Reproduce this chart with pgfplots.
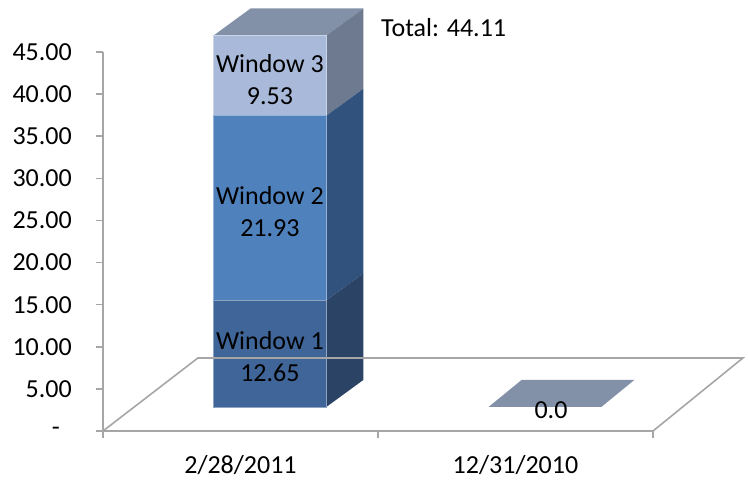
\documentclass[border=0pt]{standalone}
\usepackage{fontspec}
\setmainfont{Carlito}
\usepackage{pgfplots}
\pgfplotsset{compat=1.18}
\definecolor{axgray}{HTML}{A6A6A6}
\definecolor{wa}{HTML}{406699}
\definecolor{was}{HTML}{2B4466}
\definecolor{wb}{HTML}{4F81BD}
\definecolor{wbs}{HTML}{32527E}
\definecolor{wc}{HTML}{A9B9D9}
\definecolor{wcs}{HTML}{6E7A8F}
\definecolor{wtop}{HTML}{8290A8}
\begin{document}
\fontsize{26}{32}\selectfont
\begin{tikzpicture}
\begin{axis}[
  x=275pt, y=8.422pt,
  xmin=0, xmax=2, ymin=0, ymax=45,
  axis x line=bottom, axis y line=left,
  axis line style={-, draw=axgray, line width=1.6pt},
  clip=false,
  ybar stacked, bar width=0.41, bar shift=0.107,
  ytick={0,5,...,45},
  yticklabels={-\kern12pt,5.00,10.00,15.00,20.00,25.00,30.00,35.00,40.00,45.00},
  xtick={0,1,2}, xticklabels={},
  extra x ticks={0.5,1.5},
  extra x tick labels={2/28/2011,12/31/2010},
  extra x tick style={major tick length=0pt, xticklabel style={anchor=center, yshift=-34pt}},
  tick align=outside, major tick length=7pt,
  tick style={draw=axgray, line width=1.6pt},
  tick label style={font=\fontsize{26}{32}\selectfont},
  yticklabel style={anchor=east, inner sep=0pt, xshift=-24pt},
]
% floor
\addplot[sharp plot, stack plots=false, draw=axgray, line width=1.6pt] coordinates {(0,0) (0.345,8.67) (2.327,8.67) (2,0)};
% flat bar 2 (value 0.0)
\addplot[sharp plot, stack plots=false, fill=wtop, draw=none] coordinates {(1.402,2.85) (1.812,2.85) (1.932,6.056) (1.522,6.056)} -- cycle;
% front faces, stacked values
\addplot[fill=wa, draw=wa!60!white, line width=0.6pt, yshift=24pt] coordinates {(0.5,12.65) (1.5,0)};
\addplot[fill=wb, draw=wb!60!white, line width=0.6pt, yshift=24pt] coordinates {(0.5,21.93) (1.5,0)};
\addplot[fill=wc, draw=wc!60!white, line width=0.6pt, yshift=24pt] coordinates {(0.5,9.53) (1.5,0)};
% side faces
\addplot[sharp plot, stack plots=false, fill=was, draw=none] coordinates {(0.812,2.85) (0.9465,6.056) (0.9465,18.706) (0.812,15.50)} -- cycle;
\addplot[sharp plot, stack plots=false, fill=wbs, draw=none] coordinates {(0.812,15.50) (0.9465,18.706) (0.9465,40.636) (0.812,37.43)} -- cycle;
\addplot[sharp plot, stack plots=false, fill=wcs, draw=none] coordinates {(0.812,37.43) (0.9465,40.636) (0.9465,50.166) (0.812,46.96)} -- cycle;
% top face
\addplot[sharp plot, stack plots=false, fill=wtop, draw=none] coordinates {(0.402,46.96) (0.812,46.96) (0.9465,50.166) (0.5365,50.166)} -- cycle;
\coordinate (L3) at (axis cs:0.607,41.7);
\coordinate (L2) at (axis cs:0.607,26.0);
\coordinate (L1) at (axis cs:0.607,8.8);
\coordinate (LT) at (axis cs:1.011,47.95);
\coordinate (L0) at (axis cs:1.629,2.49);
\coordinate (O) at (axis cs:0,0);
\end{axis}
\node[align=center] at (L3) {Window 3\\9.53};
\node[align=center] at (L2) {Window 2\\21.93};
\node[align=center] at (L1) {Window 1\\12.65};
\node[anchor=west, inner sep=0pt] at (LT) {Total: 44.11};
\node at (L0) {0.0};
\pgfresetboundingbox
\path[use as bounding box] (O) ++(-103pt,-53pt) rectangle ++(748pt,484pt);
\end{tikzpicture}
\end{document}
